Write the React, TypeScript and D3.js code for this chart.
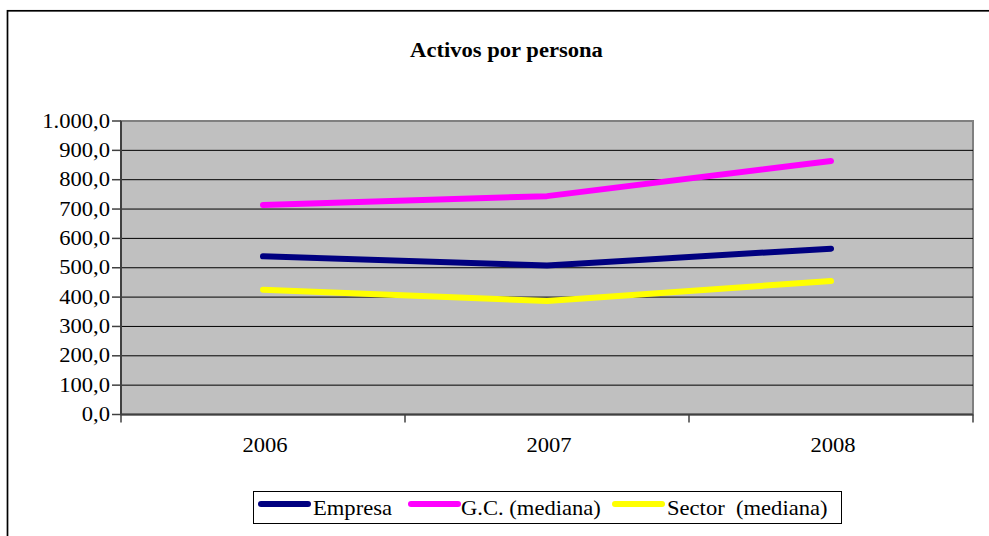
import React from "react";
import * as d3 from "d3";

const years = ["2006", "2007", "2008"];
const empresa = [539, 508, 565];
const gc = [714, 744, 864];
const sector = [425, 387, 455];
const yTicks = [0, 100, 200, 300, 400, 500, 600, 700, 800, 900, 1000];
const seriesNames = ["Empresa", "G.C. (mediana)", "Sector  (mediana)"];
const seriesColors = ["#000080", "#FF00FF", "#FFFF00"];

const W = 989;
const H = 536;
const plot = { left: 121, right: 973, top: 121, bottom: 414.5 };
const FONT = "'Liberation Serif', 'Times New Roman', serif";
const SX = 1.13;

export default function App() {
  const x = d3.scaleBand<string>().domain(years).range([plot.left, plot.right]).padding(0);
  const y = d3.scaleLinear().domain([0, 1000]).range([plot.bottom, plot.top]);
  const locale = d3.formatLocale({ decimal: ",", thousands: ".", grouping: [3], currency: ["", ""] });
  const fmt = locale.format(",.1f");
  const cx = (yr: string) => (x(yr) as number) + x.bandwidth() / 2;
  const line = d3
    .line<[string, number]>()
    .x((d) => cx(d[0]))
    .y((d) => y(d[1]));
  const series = [empresa, gc, sector];
  const boundaries = [...years.map((yr) => x(yr) as number), plot.right];

  const legendX = [258, 408, 612];
  const legendTextX = [313, 461, 667];

  return (
    <svg width={W} height={H} style={{ position: "absolute", left: 0, top: 0, display: "block" }}>
      <rect x={0} y={0} width={W} height={H} fill="#fff" />
      <rect x={7.5} y={10.8} width={1100} height={700} fill="none" stroke="#000" strokeWidth={1.7} />
      <g transform={`translate(${W / 2 + 12},57) scale(${SX},1)`}>
        <text textAnchor="middle" fontFamily={FONT} fontSize={20} fontWeight="bold" fill="#000">
          Activos por persona
        </text>
      </g>
      <rect
        x={plot.left}
        y={plot.top}
        width={plot.right - plot.left}
        height={plot.bottom - plot.top}
        fill="#C0C0C0"
        stroke="#808080"
        strokeWidth={2}
      />
      {yTicks.map((t) =>
        t === 0 || t === 1000 ? null : (
          <line key={"g" + t} x1={plot.left} x2={plot.right} y1={y(t)} y2={y(t)} stroke="#000" strokeWidth={1} />
        )
      )}
      <line x1={plot.left} x2={plot.left} y1={plot.top} y2={plot.bottom} stroke="#404040" strokeWidth={2} />
      <line x1={plot.left} x2={plot.right} y1={plot.bottom} y2={plot.bottom} stroke="#404040" strokeWidth={2} />
      {yTicks.map((t) => (
        <g key={"t" + t}>
          <line x1={plot.left - 9} x2={plot.left} y1={y(t)} y2={y(t)} stroke="#404040" strokeWidth={1.5} />
          <g transform={`translate(${plot.left - 11},${y(t) + 6.5}) scale(${SX},1)`}>
            <text textAnchor="end" fontFamily={FONT} fontSize={20} fill="#000">
              {fmt(t)}
            </text>
          </g>
        </g>
      ))}
      {boundaries.map((b, i) => (
        <line key={"xt" + i} x1={b} x2={b} y1={plot.bottom} y2={plot.bottom + 8} stroke="#404040" strokeWidth={1.5} />
      ))}
      {years.map((yr) => (
        <g key={yr} transform={`translate(${cx(yr) + 2},452) scale(${SX},1)`}>
          <text textAnchor="middle" fontFamily={FONT} fontSize={20} fill="#000">
            {yr}
          </text>
        </g>
      ))}
      {series.map((s, i) => (
        <path
          key={"s" + i}
          d={line(years.map((yr, j) => [yr, s[j]] as [string, number])) || ""}
          fill="none"
          stroke={seriesColors[i]}
          strokeWidth={6}
          strokeLinecap="round"
          strokeLinejoin="round"
        />
      ))}
      <rect x={253.5} y={491.5} width={588} height={32} fill="#fff" stroke="#000" strokeWidth={1} />
      {seriesNames.map((n, i) => (
        <g key={"l" + i}>
          <line
            x1={legendX[i] + 3}
            x2={legendX[i] + 50}
            y1={504}
            y2={504}
            stroke={seriesColors[i]}
            strokeWidth={6}
            strokeLinecap="round"
          />
          <g transform={`translate(${legendTextX[i]},515) scale(${SX},1)`}>
            <text fontFamily={FONT} fontSize={20} fill="#000" style={{ whiteSpace: "pre" }}>
              {n}
            </text>
          </g>
        </g>
      ))}
    </svg>
  );
}
